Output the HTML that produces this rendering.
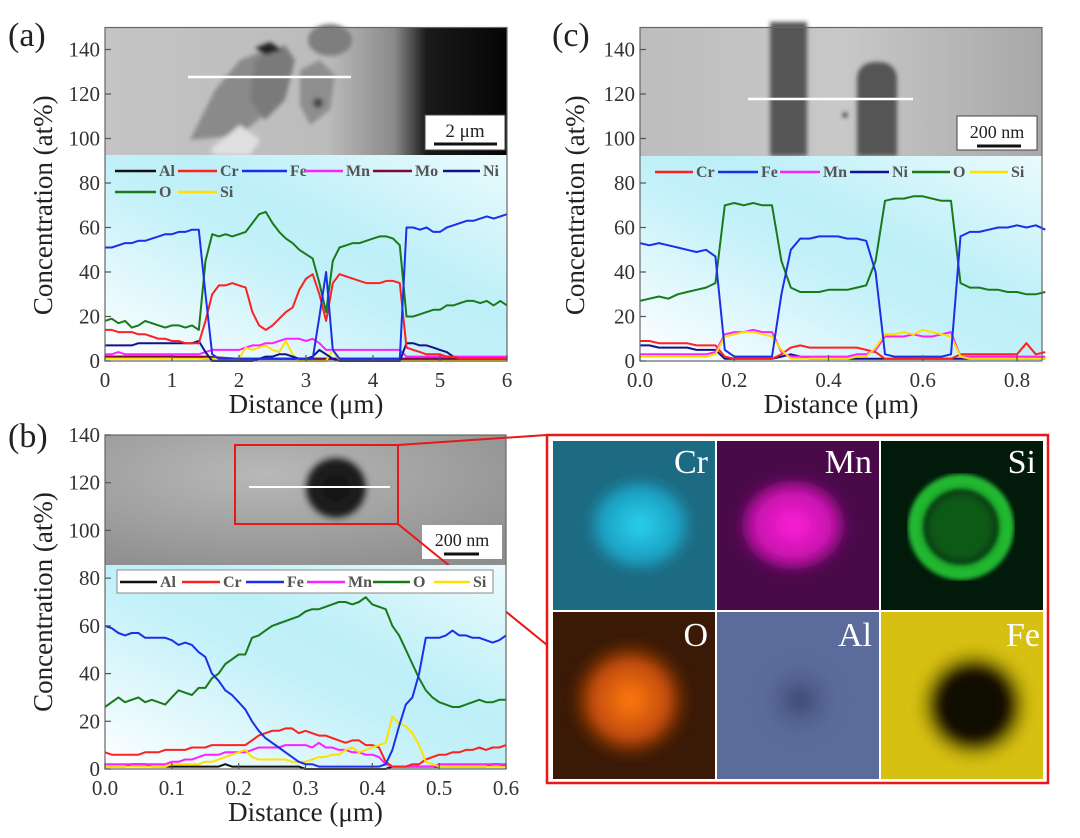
<!DOCTYPE html>
<html><head><meta charset="utf-8"><style>
html,body{margin:0;padding:0;background:#fff;}
svg, svg text{font-family:"Liberation Serif","DejaVu Serif",serif;}
</style></head><body>
<svg id="fig" width="1080" height="833" viewBox="0 0 1080 833" xmlns="http://www.w3.org/2000/svg" font-family="Liberation Serif, serif">
<defs>
<linearGradient id="plotbg" x1="0" y1="1" x2="1" y2="0">
<stop offset="0" stop-color="#ffffff"/><stop offset="0.45" stop-color="#c4f1f9"/><stop offset="0.6" stop-color="#bdeff8"/><stop offset="1" stop-color="#eafbfd"/></linearGradient>
<linearGradient id="imgA" x1="0" y1="0" x2="1" y2="0"><stop offset="0" stop-color="#c4c4c4"/><stop offset="0.55" stop-color="#bcbcbc"/><stop offset="0.72" stop-color="#8a8a8a"/><stop offset="0.8" stop-color="#1a1a1a"/><stop offset="1" stop-color="#050505"/></linearGradient>
<linearGradient id="imgC" x1="0" y1="0" x2="1" y2="0"><stop offset="0" stop-color="#bdbdbd"/><stop offset="0.5" stop-color="#c8c8c8"/><stop offset="1" stop-color="#a8a8a8"/></linearGradient>
<radialGradient id="imgB" cx="0.4" cy="0.3" r="0.8"><stop offset="0" stop-color="#b8b8b8"/><stop offset="1" stop-color="#8e8e8e"/></radialGradient>
<filter id="blur2"><feGaussianBlur stdDeviation="2"/></filter>
<filter id="blur5"><feGaussianBlur stdDeviation="5"/></filter>
<radialGradient id="tCr" cx="0.5" cy="0.5" r="0.5"><stop offset="0" stop-color="#2ad0f0"/><stop offset="0.7" stop-color="#1a9ec0"/><stop offset="1" stop-color="#1a6a80" stop-opacity="0"/></radialGradient>
<radialGradient id="tMn" cx="0.5" cy="0.5" r="0.5"><stop offset="0" stop-color="#ff20d8"/><stop offset="0.7" stop-color="#c010a8"/><stop offset="1" stop-color="#4a0a48" stop-opacity="0"/></radialGradient>
<radialGradient id="tO" cx="0.5" cy="0.5" r="0.5"><stop offset="0" stop-color="#ff7a10"/><stop offset="0.6" stop-color="#c04a08"/><stop offset="1" stop-color="#3a1805" stop-opacity="0"/></radialGradient>
<radialGradient id="tFe" cx="0.5" cy="0.5" r="0.5"><stop offset="0" stop-color="#080500"/><stop offset="0.55" stop-color="#151000"/><stop offset="1" stop-color="#d6c010" stop-opacity="0"/></radialGradient>
<radialGradient id="tAl" cx="0.5" cy="0.5" r="0.5"><stop offset="0" stop-color="#3a4670"/><stop offset="1" stop-color="#5a6a9a" stop-opacity="0"/></radialGradient>
<radialGradient id="tB" cx="0.5" cy="0.5" r="0.5"><stop offset="0" stop-color="#111"/><stop offset="0.75" stop-color="#222"/><stop offset="1" stop-color="#999" stop-opacity="0"/></radialGradient>
</defs>

<text x="8" y="46" font-size="34" fill="#222">(a)</text>
<text x="8" y="447" font-size="34" fill="#222">(b)</text>
<text x="552" y="46" font-size="34" fill="#222">(c)</text>

<g>
<rect x="105" y="27" width="402" height="128" fill="url(#imgA)"/>
<g filter="url(#blur2)">
<path d="M190 140 L215 90 L240 60 L265 50 L280 70 L270 110 L240 135 Z" fill="#8a8a8a"/>
<path d="M255 60 L285 45 L295 60 L285 100 L265 120 L250 100 Z" fill="#7a7a7a"/>
<path d="M300 70 L320 60 L335 75 L330 110 L310 125 L300 105 Z" fill="#8e8e8e"/>
<path d="M210 150 L240 125 L260 140 L250 155 L215 155 Z" fill="#e0e0e0"/>
<ellipse cx="330" cy="40" rx="22" ry="16" fill="#7e7e7e"/>
<circle cx="318" cy="103" r="5" fill="#444"/>
<path d="M255 48 L270 42 L282 50 L265 55 Z" fill="#222"/>
</g>
<line x1="188" y1="77" x2="351" y2="77" stroke="#fff" stroke-width="2.5"/>
<rect x="425" y="115" width="80" height="35" fill="#fff" stroke="#444" stroke-width="1"/>
<text x="465" y="137" font-size="19" text-anchor="middle" fill="#222">2 μm</text>
<line x1="434" y1="144" x2="497" y2="144" stroke="#111" stroke-width="3"/>
</g>

<g>
<rect x="640" y="27" width="402" height="129" fill="url(#imgC)"/>
<g filter="url(#blur2)">
<rect x="770" y="22" width="37" height="134" fill="#575757"/>
<path d="M857 156 L857 80 Q857 62 877 62 Q897 62 897 80 L897 156 Z" fill="#555"/>
<circle cx="845" cy="115" r="2.5" fill="#333"/>
</g>
<line x1="748" y1="99" x2="913" y2="99" stroke="#fff" stroke-width="2.5"/>
<rect x="957" y="116" width="80" height="34" fill="#fff" stroke="#444" stroke-width="1"/>
<text x="997" y="138" font-size="18" text-anchor="middle" fill="#222">200 nm</text>
<line x1="977" y1="146" x2="1021" y2="146" stroke="#111" stroke-width="3"/>
</g>

<g>
<rect x="105" y="435" width="401" height="130" fill="url(#imgB)"/>
<circle cx="336" cy="488" r="36" fill="url(#tB)" filter="url(#blur2)"/>
<line x1="249" y1="487" x2="390" y2="487" stroke="#fff" stroke-width="2"/>
<rect x="235" y="445" width="163" height="79" fill="none" stroke="#e81818" stroke-width="2"/>
<rect x="422" y="525" width="80" height="34" fill="#fff"/>
<text x="462" y="546" font-size="18" text-anchor="middle" fill="#222">200 nm</text>
<line x1="444" y1="554" x2="479" y2="554" stroke="#111" stroke-width="3"/>
</g>
<line x1="398" y1="445" x2="547" y2="435" stroke="#e81818" stroke-width="2"/>
<line x1="398" y1="524" x2="547" y2="645" stroke="#e81818" stroke-width="2"/>

<g>
<rect x="547" y="435" width="501" height="348" fill="#fff" stroke="#e81818" stroke-width="2.5"/>
<g><rect x="553" y="441" width="162" height="169" fill="#1d6b82"/><ellipse cx="640" cy="525" rx="58" ry="52" fill="url(#tCr)" filter="url(#blur5)"/><text x="708" y="473" font-size="34" fill="#fff" text-anchor="end">Cr</text></g>
<g><rect x="717" y="441" width="162" height="169" fill="#4a0a4a"/><ellipse cx="793" cy="525" rx="60" ry="52" fill="url(#tMn)" filter="url(#blur5)"/><text x="872" y="473" font-size="34" fill="#fff" text-anchor="end">Mn</text></g>
<g><rect x="881" y="441" width="162" height="169" fill="#021a0a"/><circle cx="961" cy="527" r="45" fill="none" stroke="#22b830" stroke-width="16" filter="url(#blur2)"/><circle cx="961" cy="527" r="36" fill="#0d5a18" filter="url(#blur5)"/><text x="1036" y="473" font-size="34" fill="#fff" text-anchor="end">Si</text></g>
<g><rect x="553" y="612" width="162" height="167" fill="#3a1a06"/><circle cx="630" cy="700" r="65" fill="url(#tO)" filter="url(#blur5)"/><text x="708" y="646" font-size="34" fill="#fff" text-anchor="end">O</text></g>
<g><rect x="717" y="612" width="162" height="167" fill="#5b6b9b"/><circle cx="800" cy="700" r="45" fill="url(#tAl)" filter="url(#blur5)"/><text x="872" y="646" font-size="34" fill="#fff" text-anchor="end">Al</text></g>
<g><rect x="881" y="612" width="162" height="167" fill="#d6c012"/><circle cx="974" cy="705" r="62" fill="url(#tFe)" filter="url(#blur5)"/><text x="1040" y="646" font-size="34" fill="#fff" text-anchor="end">Fe</text></g>
</g>

<g id="charts"></g>
</svg>
<script>
const distA = [0,0.1,0.2,0.3,0.4,0.5,0.6,0.7,0.8,0.9,1,1.1,1.2,1.3,1.4,1.5,1.6,1.7,1.8,1.9,2,2.1,2.2,2.3,2.4,2.5,2.6,2.7,2.8,2.9,3,3.1,3.2,3.3,3.4,3.5,3.6,3.7,3.8,3.9,4,4.1,4.2,4.3,4.4,4.5,4.6,4.7,4.8,4.9,5,5.1,5.2,5.3,5.4,5.5,5.6,5.7,5.8,5.9,6];
const feA = [51,51,52,53,53,54,54,55,56,57,57,58,58,59,59,30,3,1,1,1,1,1,1,1,1,1,1,1,1,1,1,1,20,40,5,1,1,1,1,1,1,1,1,1,1,60,60,59,60,58,58,60,61,62,63,63,64,65,64,65,66];
const oA = [18,19,17,18,15,16,18,17,16,15,16,16,15,16,14,45,57,56,57,56,57,58,62,66,67,62,58,55,53,50,48,46,35,22,45,51,52,53,53,54,55,56,56,55,52,20,20,21,22,23,23,25,25,26,27,27,26,27,25,27,25];
const crA = [14,14,13,13,13,12,12,11,10,10,9,9,8,8,8,18,30,34,34,35,34,33,22,16,14,16,19,22,24,32,37,39,30,18,35,39,38,37,36,35,35,35,36,36,35,6,5,4,3,3,3,2,2,1,1,1,1,1,1,1,1];
const mnA = [3,3,4,3,3,3,3,3,3,3,3,3,3,3,3,4,5,5,5,5,5,6,7,7,8,8,9,10,10,10,9,10,8,5,5,5,5,5,5,5,5,5,5,5,5,2,2,2,2,2,2,2,2,2,2,2,2,2,2,2,2];
const niA = [7,7,7,7,7,8,8,8,8,8,8,8,8,8,9,4,0,0,0,0,0,0,0,1,2,2,3,3,2,1,1,2,5,3,1,0,0,0,0,0,0,0,0,0,0,8,8,7,7,6,5,4,2,1,1,1,1,1,1,1,1];
const siA = [1,1,1,1,1,1,1,1,1,1,1,1,1,1,1,1,1,1,1,1,1,6,5,6,7,5,4,9,3,0,0,0,0,0,5,0,0,0,0,0,0,0,0,0,0,0,0,0,0,0,0,0,0,0,0,0,0,0,0,0,0];
const distA2 = [0,0.5,1,1.5,2,2.5,3,3.5,4,4.5,5,5.5,6];
const alA = [2,2,2,1,1,1,1,1,1,1,1,1,1];
const moA = [2,2,2,2,1,1,1,1,1,1,1,1,1];
const xTicksA = ["0","1","2","3","4","5","6"];

const distB = [];
for (let i = 0; i <= 60; i++) distB.push(+(i*0.01).toFixed(2));
const feB = [60,59,57,56,57,57,55,55,55,55,54,52,53,52,49,47,40,37,33,31,28,25,20,16,13,11,9,7,5,3,2,2,1,1,1,1,1,1,1,1,1,1,2,8,18,27,30,40,55,55,55,56,58,56,56,55,55,54,53,54,56];
const oB = [26,28,30,28,29,30,28,29,28,27,30,33,32,31,34,34,38,40,44,46,48,48,55,56,58,60,61,62,63,64,66,67,67,68,69,70,70,69,70,72,69,68,67,60,56,50,44,38,33,30,28,27,26,26,27,28,29,28,28,29,29];
const crB = [7,6,6,6,6,6,7,7,7,8,8,8,8,9,9,9,10,10,10,10,10,10,12,14,15,16,16,17,17,15,16,15,14,14,13,12,11,12,12,10,10,9,3,1,1,1,2,2,4,5,6,6,7,7,8,8,9,8,9,9,10];
const mnB = [2,2,2,2,2,2,2,2,2,2,3,3,4,4,5,6,6,6,7,7,7,7,8,9,9,9,9,10,10,10,10,9,11,9,9,8,8,7,7,6,6,5,2,1,1,1,1,1,1,1,2,2,2,2,2,2,2,2,2,2,2];
const siB = [1,1,1,1,1,1,1,1,1,1,2,2,2,2,2,3,3,4,5,6,7,8,5,4,4,4,4,4,3,3,3,4,5,5,6,6,8,9,7,8,9,10,11,22,19,18,15,10,3,2,1,1,1,1,1,1,1,1,1,1,1];
const alB = [1,1,1,1,2,2,2,1,1,1,1,1,1,1,1,1,1,1,2,1,1,1,1,1,1,1,1,1,1,1,0,0,0,0,0,0,0,0,0,0,0,0,0,1,1,1,1,1,1,1,1,1,1,1,1,1,1,1,2,2,1];
const xTicksB = ["0.0","0.1","0.2","0.3","0.4","0.5","0.6"];

const distC = [];
for (let i = 0; i <= 43; i++) distC.push(+(i*0.02).toFixed(2));
const feC = [53,52,53,52,51,50,49,50,47,5,2,2,2,2,2,30,50,55,55,56,56,56,55,55,54,40,3,2,2,2,2,2,2,3,56,58,58,59,60,60,61,60,61,59];
const oC = [27,28,29,28,30,31,32,33,35,70,71,70,71,70,70,45,33,31,31,31,32,32,32,33,34,45,72,73,73,74,74,73,72,72,35,33,33,32,32,31,31,30,30,31];
const crC = [9,9,8,8,8,8,7,7,7,2,1,1,1,1,1,3,6,7,6,6,6,6,6,6,5,4,1,1,1,1,1,1,1,1,3,3,3,3,3,3,3,8,3,4];
const mnC = [3,3,3,3,3,3,3,3,4,12,13,13,14,13,13,4,2,2,2,2,2,2,2,3,3,5,11,11,11,12,11,11,12,13,2,2,2,2,2,2,2,2,2,2];
const siC = [2,2,2,2,2,2,2,2,3,11,12,13,13,12,11,5,1,1,1,1,1,1,1,2,2,6,12,12,13,12,14,13,12,11,2,1,1,1,1,1,1,1,1,1];
const niC = [7,7,6,6,6,6,5,5,5,1,1,1,1,1,1,2,3,2,1,1,1,1,1,1,1,1,1,1,1,1,1,1,1,1,1,1,1,1,1,1,1,1,1,1];
const xTicksC = ["0.0","0.2","0.4","0.6","0.8"];
const yTicks = ["0","20","40","60","80","100","120","140"];

const COL = {Al:"#111111",Cr:"#ff2020",Fe:"#1a30e8",Mn:"#ff20ff",Mo:"#7a0a3a",Ni:"#12128a",O:"#1a7a1a",Si:"#ffe000"};
const NS = "http://www.w3.org/2000/svg";
const root = document.getElementById("charts");
function mk(tag, attrs, parent) {
  const e = document.createElementNS(NS, tag);
  for (const k in attrs) e.setAttribute(k, attrs[k]);
  if (tag === "text") e.setAttribute("font-family", "Liberation Serif, serif");
  (parent || root).appendChild(e);
  return e;
}

function panel(cfg) {
  const g = mk("g", {});
  
  
  const X = v => cfg.x0 + (v - cfg.xmin) / (cfg.xmax - cfg.xmin) * (cfg.x1 - cfg.x0);
  const Y = v => cfg.yBottom - v / 140 * (cfg.yBottom - cfg.yTop);
  const bg = mk("rect", {x: cfg.x0, y: cfg.bgTop, width: cfg.x1 - cfg.x0, height: cfg.yBottom - cfg.bgTop, fill: "url(#plotbg)"}, g);
  
  
  cfg.series.forEach(s => {
    let d = "";
    s.v.forEach((v, i) => { d += (i ? "L" : "M") + X(s.x[i]).toFixed(1) + " " + Y(v).toFixed(1); });
    const p = mk("path", {d: d, fill: "none", stroke: COL[s.n], "stroke-width": 2, "stroke-linejoin": "round"}, g);
    
    
  });
  const fr = mk("rect", {x: cfg.x0, y: cfg.yTop - cfg.topPad, width: cfg.x1 - cfg.x0, height: cfg.yBottom - cfg.yTop + cfg.topPad, fill: "none", stroke: "#666", "stroke-width": 1.2}, g);
  
  
  yTicks.forEach(t => {
    const v = +t, yy = Y(v);
    const tl = mk("line", {x1: cfg.x0, x2: cfg.x0 + 6, y1: yy, y2: yy, stroke: "#555", "stroke-width": 1.2}, g);
    
    
    const tx = mk("text", {x: cfg.x0 - 5, y: yy + 7, "font-size": 21, "text-anchor": "end", fill: "#333"}, g);
    tx.textContent = t;
    
    
  });
  cfg.xTicks.forEach(t => {
    const xx = X(+t);
    const tl = mk("line", {x1: xx, x2: xx, y1: cfg.yBottom, y2: cfg.yBottom - 6, stroke: "#555", "stroke-width": 1.2}, g);
    
    
    const tx = mk("text", {x: xx, y: cfg.yBottom + 26, "font-size": 21, "text-anchor": "middle", fill: "#333"}, g);
    tx.textContent = t;
    
    
  });
  const xt = mk("text", {x: (cfg.x0 + cfg.x1) / 2, y: cfg.yBottom + 52, "font-size": 27, "text-anchor": "middle", fill: "#222"}, g);
  xt.textContent = "Distance (μm)";
  
  
  const yc = (cfg.yTop + cfg.yBottom) / 2 + cfg.ytOff;
  const yt = mk("text", {x: cfg.ytX, y: yc, "font-size": 27, "text-anchor": "middle", fill: "#222", transform: "rotate(-90 " + cfg.ytX + " " + yc + ")"}, g);
  yt.textContent = "Concentration (at%)";
  
  
  if (cfg.legendBox) {
    const lb = mk("rect", cfg.legendBox, g);
    
    
  }
  cfg.legend.forEach(L => {
    const lg = mk("g", {}, g);
    
    
    mk("line", {x1: L[1], x2: L[2], y1: L[3], y2: L[3], stroke: COL[L[0]], "stroke-width": 2.5}, lg);
    const t = mk("text", {x: L[2] + 3, y: L[3] + 5, "font-size": 16, "font-weight": "bold", fill: "#555"}, lg);
    t.textContent = L[0];
  });
}

panel({name: "line-profile-a", x0: 105, x1: 507, xmin: 0, xmax: 6, yTop: 49.5, yBottom: 361, topPad: 22, bgTop: 155, ytX: 52, ytOff: 0,
  xTicks: xTicksA,
  series: [{n:"Al",x:distA2,v:alA},{n:"Mo",x:distA2,v:moA},{n:"Mn",x:distA,v:mnA},{n:"Si",x:distA,v:siA},{n:"Ni",x:distA,v:niA},{n:"Cr",x:distA,v:crA},{n:"O",x:distA,v:oA},{n:"Fe",x:distA,v:feA}],
  legend: [["Al",115,156,171],["Cr",178,217,171],["Fe",242,287,171],["Mn",305,343,171],["Mo",373,412,171],["Ni",443,480,171],["O",115,156,192],["Si",178,217,192]]
});
panel({name: "line-profile-b", x0: 105, x1: 506, xmin: 0, xmax: 0.6, yTop: 435, yBottom: 769, topPad: 0, bgTop: 565, ytX: 52, ytOff: 0,
  xTicks: xTicksB,
  legendBox: {x: 117, y: 570, width: 376, height: 23, fill: "#fff", stroke: "#888", "stroke-width": 1},
  series: [{n:"Al",x:distB,v:alB},{n:"Mn",x:distB,v:mnB},{n:"Cr",x:distB,v:crB},{n:"Si",x:distB,v:siB},{n:"O",x:distB,v:oB},{n:"Fe",x:distB,v:feB}],
  legend: [["Al",120,157,582],["Cr",182,220,582],["Fe",246,284,582],["Mn",307,345,582],["O",373,410,582],["Si",434,470,582]]
});
panel({name: "line-profile-c", x0: 640, x1: 1042, xmin: 0, xmax: 0.8 * (1042 - 640) / (1017 - 640), yTop: 49.5, yBottom: 361, topPad: 22, bgTop: 156, ytX: 584, ytOff: 0,
  xTicks: xTicksC,
  series: [{n:"Ni",x:distC,v:niC},{n:"Cr",x:distC,v:crC},{n:"Mn",x:distC,v:mnC},{n:"Si",x:distC,v:siC},{n:"O",x:distC,v:oC},{n:"Fe",x:distC,v:feC}],
  legend: [["Cr",655,693,172],["Fe",718,758,172],["Mn",780,820,172],["Ni",850,889,172],["O",912,950,172],["Si",970,1008,172]]
});
</script>
</body></html>
